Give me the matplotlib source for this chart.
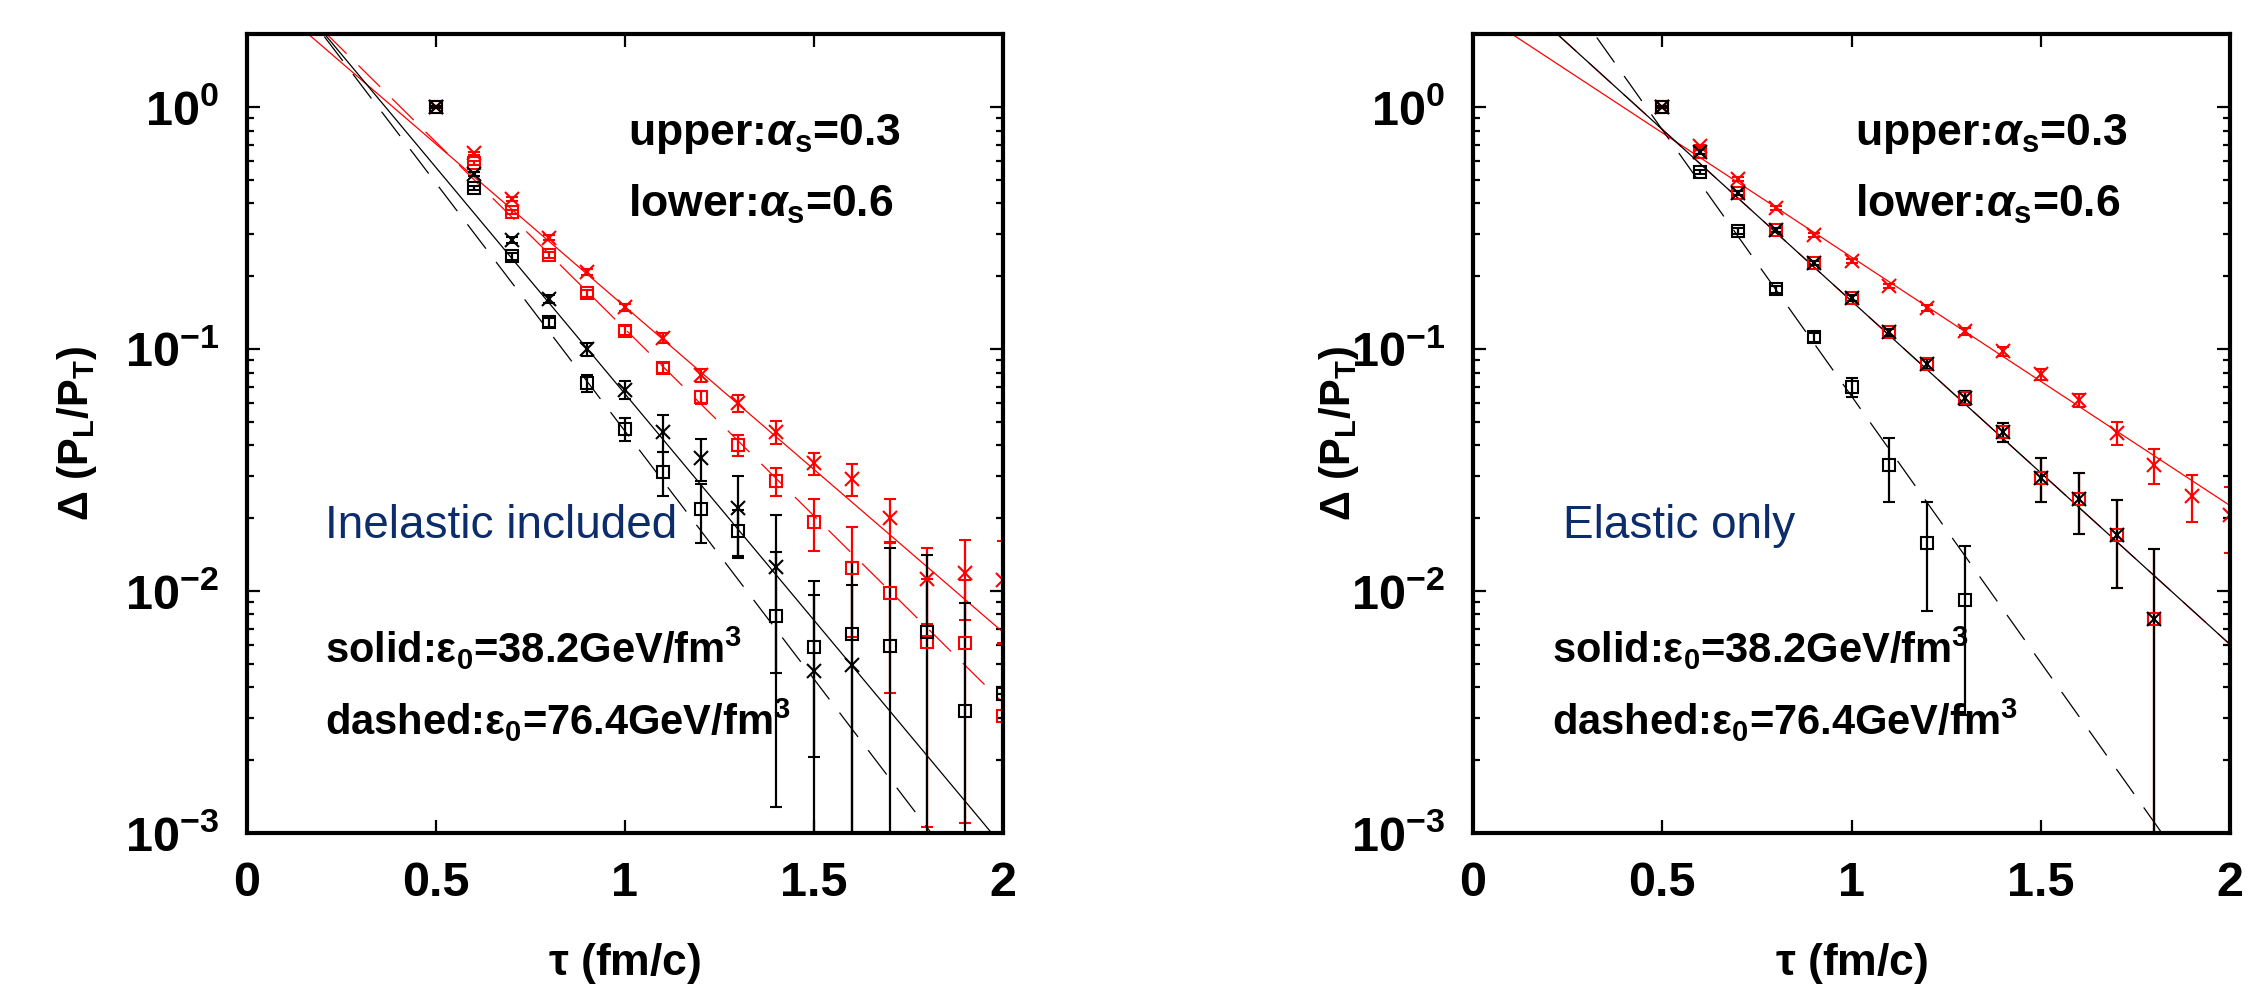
import numpy as np
import matplotlib
matplotlib.use('Agg')
import matplotlib.pyplot as plt
from matplotlib.ticker import LogLocator, NullFormatter

plt.rcParams['font.family'] = ['Liberation Sans', 'DejaVu Sans']
plt.rcParams['font.weight'] = 'bold'
plt.rcParams['mathtext.fontset'] = 'custom'
plt.rcParams['mathtext.rm'] = 'Liberation Sans:bold'
plt.rcParams['mathtext.bf'] = 'Liberation Sans:bold'
plt.rcParams['mathtext.it'] = 'Liberation Sans:italic'
plt.rcParams['mathtext.sf'] = 'Liberation Sans'
plt.rcParams['lines.scale_dashes'] = False

### data
tau = [0.5, 0.6, 0.7, 0.8, 0.9, 1.0, 1.1, 1.2, 1.3, 1.4, 1.5, 1.6, 1.7, 1.8, 1.9, 2.0]
nan = np.nan

# left panel: inelastic included
inel_a03_e38 = [1.0, 0.645, 0.417, 0.288, 0.208, 0.149, 0.111, 0.078, 0.0598, 0.0454,
                0.0338, 0.029, 0.020, 0.0112, 0.0119, 0.0111]
inel_a03_e38_err = [0.01, 0.01, 0.008, 0.007, 0.006, 0.005, 0.005, 0.005, 0.005, 0.005,
                    0.0035, 0.0044, 0.004, 0.0039, 0.0043, 0.005]
inel_a03_e76 = [1.0, 0.587, 0.368, 0.245, 0.170, 0.119, 0.0834, 0.0633, 0.0401, 0.0285,
                0.0193, 0.01245, 0.0098, 0.00616, 0.0061, 0.00304]
inel_a03_e76_err = [0.01, 0.01, 0.008, 0.007, 0.006, 0.005, 0.004, 0.004, 0.004, 0.0039,
                    0.0046, 0.006, 0.006, 0.0051, 0.005, 0.003]
inel_a06_e38 = [1.0, 0.528, 0.282, 0.161, 0.100, 0.068, 0.0454, 0.0355, 0.022, 0.01257,
                0.00467, 0.00494, nan, nan, nan, nan]
inel_a06_e38_err = [0.01, 0.01, 0.008, 0.006, 0.006, 0.006, 0.008, 0.007, 0.008, 0.008,
                    0.0063, 0.0057, nan, nan, nan, nan]
inel_a06_e76 = [1.0, 0.463, 0.242, 0.129, 0.0724, 0.0468, 0.031, 0.0218, 0.0177, 0.00788,
                0.00587, 0.00664, 0.00593, 0.00677, 0.00319, 0.00375]
inel_a06_e76_err = [0.01, 0.01, 0.008, 0.006, 0.006, 0.005, 0.0064, 0.006, 0.004, 0.0066,
                    0.0038, 0.0065, 0.0091, 0.0073, 0.0057, 0.0]

# right panel: elastic only
el_a03_e38 = [1.0, 0.690, 0.504, 0.383, 0.296, 0.231, 0.182, 0.1476, 0.1186, 0.098,
              0.0788, 0.0615, 0.045, 0.0332, 0.0247, 0.0206]
el_a03_e38_err = [0.01, 0.01, 0.008, 0.006, 0.005, 0.005, 0.004, 0.004, 0.004, 0.004,
                  0.004, 0.004, 0.005, 0.0055, 0.0055, 0.0063]
el_a03_e76 = [1.0, 0.652, 0.441, 0.31, 0.227, 0.163, 0.1175, 0.0867, 0.0628, 0.0454,
              0.0293, 0.024, 0.017, 0.00766, nan, nan]
el_a03_e76_err = [0.01, 0.01, 0.008, 0.006, 0.005, 0.005, 0.004, 0.004, 0.004, 0.004,
                  0.006, 0.0068, 0.0067, 0.0073, nan, nan]
el_a06_e38 = [1.0, 0.652, 0.441, 0.31, 0.227, 0.163, 0.1175, 0.0867, 0.0628, 0.0454,
              0.0293, 0.024, 0.017, 0.00766, nan, nan]
el_a06_e38_err = [0.01, 0.01, 0.008, 0.006, 0.005, 0.005, 0.004, 0.004, 0.004, 0.004,
                  0.006, 0.0068, 0.0067, 0.0073, nan, nan]
el_a06_e76 = [1.0, 0.539, 0.308, 0.177, 0.112, 0.0697, 0.0332, 0.0158, 0.00918,
              nan, nan, nan, nan, nan, nan, nan]
el_a06_e76_err = [0.01, 0.01, 0.008, 0.006, 0.005, 0.0065, 0.0098, 0.0075, 0.0061,
                  nan, nan, nan, nan, nan, nan, nan]

# exponential fits: log10(y) = intercept - slope * tau
inel_fit_intercept = [0.52, 0.628, 0.686, 0.711]   # red solid, red dashed, black solid, black dashed
inel_fit_slope = [1.345, 1.545, 1.871, 2.05]
el_fit_intercept = [0.407, 0.617, 0.617, 1.007]
el_fit_slope = [1.027, 1.419, 1.419, 2.202]

NAVY = '#0c2c6c'
DASH = (0, (22, 12))


def draw_panel(ax, sets, fit_a, fit_k):
    ax.set_yscale('log')
    tt = np.linspace(0, 2, 200)
    styles = [('red', '-'), ('red', DASH), ('black', '-'), ('black', DASH)]
    for (col, ls), a, k in zip(styles, fit_a, fit_k):
        ax.plot(tt, 10 ** (a - k * tt), color=col, ls=ls, lw=0.9)
    for vals, errs, mk, col in sets:
        ms = 10 if mk == 'x' else 9.2
        ax.errorbar(tau, vals, yerr=errs, fmt=mk, color=col, mfc='none', ms=ms,
                    mew=1.5, elinewidth=1.6, capsize=4, capthick=1.6)
    ax.set_xlim(0, 2)
    ax.set_ylim(1e-3, 2)
    ax.set_xticks([0, 0.5, 1, 1.5, 2])
    ax.set_xticklabels(['0', '0.5', '1', '1.5', '2'])
    ax.set_yticks([1e-3, 1e-2, 1e-1, 1])
    ax.set_yticklabels(['$10^{-3}$', '$10^{-2}$', '$10^{-1}$', '$10^{0}$'])
    ax.yaxis.set_minor_locator(LogLocator(base=10, subs=np.arange(2, 10)))
    ax.yaxis.set_minor_formatter(NullFormatter())
    ax.tick_params(which='both', direction='in', top=True, right=True, width=1.6)
    ax.tick_params(which='major', length=9.5, labelsize=35)
    ax.tick_params(which='minor', length=5)
    ax.tick_params(axis='x', pad=20)
    ax.tick_params(axis='y', pad=20)
    for sp in ax.spines.values():
        sp.set_linewidth(3)
    ax.set_xlabel(r'$\mathsf{\tau}$ (fm/c)', fontsize=32, fontweight='bold')
    ax.set_ylabel(r'$\Delta$ (P$_{\rm L}$/P$_{\rm T}$)', fontsize=30, fontweight='bold')
    ax.xaxis.set_label_coords(0.5, -0.135)
    ax.text(0.504, 0.861, r'upper:$\alpha_{\rm s}$=0.3', transform=ax.transAxes,
            fontsize=32, fontweight='bold')
    ax.text(0.504, 0.771, r'lower:$\alpha_{\rm s}$=0.6', transform=ax.transAxes,
            fontsize=32, fontweight='bold')


fig = plt.figure(figsize=(22.59, 10.01), dpi=100)
ax1 = fig.add_axes([0.1093, 0.1678, 0.3347, 0.798])
ax2 = fig.add_axes([0.6521, 0.1678, 0.3351, 0.798])

draw_panel(ax1, [(inel_a03_e38, inel_a03_e38_err, 'x', 'red'),
                 (inel_a03_e76, inel_a03_e76_err, 's', 'red'),
                 (inel_a06_e38, inel_a06_e38_err, 'x', 'black'),
                 (inel_a06_e76, inel_a06_e76_err, 's', 'black')],
           inel_fit_intercept, inel_fit_slope)
draw_panel(ax2, [(el_a03_e38, el_a03_e38_err, 'x', 'red'),
                 (el_a03_e76, el_a03_e76_err, 's', 'red'),
                 (el_a06_e38, el_a06_e38_err, 'x', 'black'),
                 (el_a06_e76, el_a06_e76_err, 's', 'black')],
           el_fit_intercept, el_fit_slope)

ax1.yaxis.set_label_coords(-0.196, 0.5)
ax2.yaxis.set_label_coords(-0.148, 0.5)

ax1.text(0.103, 0.369, 'Inelastic included', transform=ax1.transAxes,
         fontsize=33, fontweight='normal', color=NAVY)
ax2.text(0.119, 0.369, 'Elastic only', transform=ax2.transAxes,
         fontsize=33, fontweight='normal', color=NAVY)

for ax, x0 in [(ax1, 0.103), (ax2, 0.104)]:
    ax.text(x0, 0.213, r'solid:$\mathsf{\varepsilon}_{0}$=38.2GeV/fm$^{3}$',
            transform=ax.transAxes, fontsize=30, fontweight='bold')
    ax.text(x0, 0.123, r'dashed:$\mathsf{\varepsilon}_{0}$=76.4GeV/fm$^{3}$',
            transform=ax.transAxes, fontsize=30, fontweight='bold')

fig.savefig('out.png', dpi=100)
